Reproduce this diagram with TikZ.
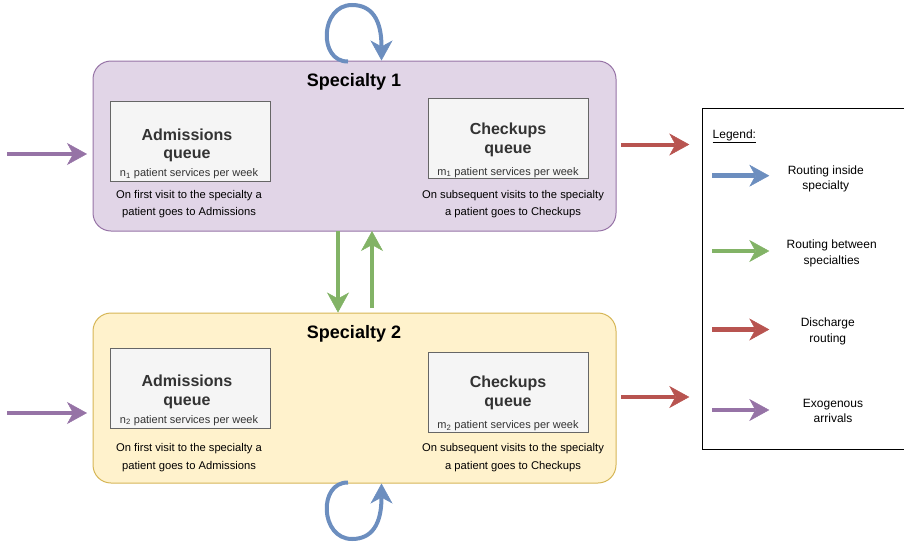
\documentclass[tikz,border=0pt]{standalone}
\usepackage{fontspec}
\setmainfont{Liberation Sans}
\usetikzlibrary{arrows.meta}
\definecolor{bluec}{HTML}{6C8EBF}
\definecolor{greenc}{HTML}{82B366}
\definecolor{redc}{HTML}{B85450}
\definecolor{purplec}{HTML}{9673A6}
\definecolor{purplefill}{HTML}{E1D5E7}
\definecolor{yellowc}{HTML}{D6B656}
\definecolor{yellowfill}{HTML}{FFF2CC}
\definecolor{qborder}{HTML}{666666}
\definecolor{qfill}{HTML}{F5F5F5}
\definecolor{qtext}{HTML}{333333}
\begin{document}
\begin{tikzpicture}[x=1pt,y=-1pt,
  spec/.style={draw, rounded corners=18pt, line width=1pt, inner sep=0pt},
  queue/.style={draw=qborder, fill=qfill, line width=0.9pt, inner sep=0pt, minimum width=160pt, minimum height=80pt},
  qtitle/.style={font=\fontsize{16}{19}\selectfont\bfseries, text=qtext, anchor=base, inner sep=0pt},
  qsub/.style={font=\fontsize{11}{13}\selectfont, text=qtext, anchor=base, inner sep=0pt},
  capt/.style={font=\fontsize{11.2}{13}\selectfont, anchor=base, inner sep=0pt},
  ttl/.style={font=\fontsize{18}{21}\selectfont\bfseries, anchor=base, inner sep=0pt},
  legtext/.style={font=\fontsize{12}{15}\selectfont, anchor=base, inner sep=0pt},
  arr/.style={line width=4pt, -{Stealth[length=20pt,width=22pt,inset=6pt,line width=0.5pt]}},
  larr/.style={line width=4.5pt, -{Stealth[length=20pt,width=22pt,inset=6pt,line width=0.5pt]}}
]
\useasboundingbox (0,0) rectangle (904,544);

% Specialty containers
\node[spec, fill=purplefill, draw=purplec, minimum width=523pt, minimum height=170pt] (s1) at (354.5,146) {};
\node[spec, fill=yellowfill, draw=yellowc, minimum width=523pt, minimum height=170pt] (s2) at (354.5,398) {};

\node[ttl] (t1) at (354,86.5) {Specialty 1};
\node[ttl] (t2) at (354,338.8) {Specialty 2};

% Specialty 1 queues
\node[queue] (a1) at (190,141.7) {};
\node[qtitle] (a1t) at (187,140) {Admissions};
\node[qtitle] (a1q) at (187,158.7) {queue};
\node[qsub] (a1n) at (189,176.7) {n\textsubscript{1} patient services per week};
\node[capt] (a1c1) at (189,198.5) {On first visit to the specialty a};
\node[capt] (a1c2) at (189,215.8) {patient goes to Admissions};

\node[queue] (c1) at (508,138.8) {};
\node[qtitle] (c1t) at (508,134) {Checkups};
\node[qtitle] (c1q) at (508,153.5) {queue};
\node[qsub] (c1n) at (508,175) {m\textsubscript{1} patient services per week};
\node[capt] (c1c1) at (513,198.5) {On subsequent visits to the specialty};
\node[capt] (c1c2) at (513,215.8) {a patient goes to Checkups};

% Specialty 2 queues
\node[queue] (a2) at (190,388.3) {};
\node[qtitle] (a2t) at (187,386.6) {Admissions};
\node[qtitle] (a2q) at (187,405.3) {queue};
\node[qsub] (a2n) at (189,423.3) {n\textsubscript{2} patient services per week};
\node[capt] (a2c1) at (189,451.8) {On first visit to the specialty a};
\node[capt] (a2c2) at (189,469.1) {patient goes to Admissions};

\node[queue] (c2) at (508,392.7) {};
\node[qtitle] (c2t) at (508,387.4) {Checkups};
\node[qtitle] (c2q) at (508,406.9) {queue};
\node[qsub] (c2n) at (508,428.4) {m\textsubscript{2} patient services per week};
\node[capt] (c2c1) at (513,451.8) {On subsequent visits to the specialty};
\node[capt] (c2c2) at (513,469.1) {a patient goes to Checkups};

% Blue loops (routing inside specialty)
\coordinate (l1s) at (348,61.5);
\coordinate (l1e) at (381.5,60.5);
\draw[arr, draw=bluec] (l1s) .. controls (318,62) and (320,5) .. (352,5) .. controls (372,5) and (381.5,20) .. (l1e);
\coordinate (l2s) at (348,482.5);
\coordinate (l2e) at (381.5,483.5);
\draw[arr, draw=bluec] (l2s) .. controls (318,482) and (320,539) .. (352,539) .. controls (372,539) and (381.5,524) .. (l2e);

% Green arrows between specialties
\coordinate (g1s) at (338,231);
\coordinate (g1e) at (338,312.5);
\coordinate (g2s) at (372,308);
\coordinate (g2e) at (372,231);
\draw[arr, draw=greenc] (g1s) -- (g1e);
\draw[arr, draw=greenc] (g2s) -- (g2e);

% Exogenous arrivals
\coordinate (p1s) at (7,154);
\coordinate (p1e) at (87,154);
\coordinate (p2s) at (7,413);
\coordinate (p2e) at (87,413);
\draw[arr, draw=purplec] (p1s) -- (p1e);
\draw[arr, draw=purplec] (p2s) -- (p2e);

% Discharge
\coordinate (r1s) at (621,144.5);
\coordinate (r1e) at (689.3,144.5);
\coordinate (r2s) at (621,397);
\coordinate (r2e) at (689.3,397);
\draw[arr, draw=redc] (r1s) -- (r1e);
\draw[arr, draw=redc] (r2s) -- (r2e);

% Legend
\node[draw=black, line width=1pt, minimum width=202pt, minimum height=341pt, inner sep=0pt] (leg) at (803,278.8) {};
\node[legtext, anchor=base west] (legt) at (712.5,138.3) {\underline{Legend:}};

\coordinate (lb1) at (712,175.7);
\coordinate (lb2) at (769.3,175.7);
\draw[larr, draw=bluec] (lb1) -- (lb2);
\node[legtext] (lbt1) at (825.8,174) {Routing inside};
\node[legtext] (lbt2) at (825.8,189.3) {specialty};

\coordinate (lg1) at (712,251);
\coordinate (lg2) at (769.3,251);
\draw[larr, draw=greenc] (lg1) -- (lg2);
\node[legtext] (lgt1) at (831.7,248.6) {Routing between};
\node[legtext] (lgt2) at (831.7,264.3) {specialties};

\coordinate (lr1) at (712,329.5);
\coordinate (lr2) at (769.3,329.5);
\draw[larr, draw=redc] (lr1) -- (lr2);
\node[legtext] (lrt1) at (827.8,326) {Discharge};
\node[legtext] (lrt2) at (827.8,342.6) {routing};

\coordinate (lp1) at (712,410);
\coordinate (lp2) at (769.3,410);
\draw[larr, draw=purplec] (lp1) -- (lp2);
\node[legtext] (lpt1) at (833,407.6) {Exogenous};
\node[legtext] (lpt2) at (833,422.6) {arrivals};
\end{tikzpicture}
\end{document}
